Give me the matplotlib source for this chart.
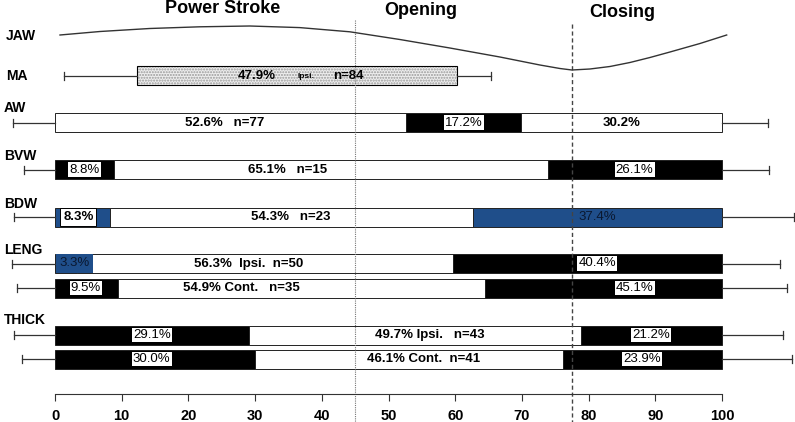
import matplotlib.pyplot as plt

# phase headers
phases = ["Power Stroke", "Opening", "Closing"]

# jaw movement trace (x in %, y in pixel rows of the chart)
jaw_x = [0.75, 6.75, 14.2, 21.7, 29.2, 36.7, 44.2, 51.7, 59.2, 66.7, 72.7,
         75.7, 77.5, 80.2, 83.2, 86.2, 89.2, 92.2, 96.7, 100.7]
jaw_y = [35, 31.5, 28.5, 26.8, 26, 27.6, 31.8, 39.5, 48, 57, 65, 68.5, 70,
         69, 66.5, 62.5, 57.5, 52, 43.5, 35]

# MA bar
ma_start = 12.3
ma_width = 47.9
ma_low = 1.35
ma_high = 65.3

# stacked bars
bar_names = ["AW", "BVW", "BDW", "LENG", "", "THICK", ""]
seg_widths = [
    [52.6, 17.2, 30.2],
    [8.8, 65.1, 26.1],
    [8.3, 54.3, 37.4],
    [3.3, 56.3, 40.4],
    [9.5, 54.9, 35.6],
    [29.1, 49.7, 21.2],
    [30.0, 46.1, 23.9],
]
seg_kinds = [
    ["w", "k", "w"],
    ["k", "w", "k"],
    ["b", "w", "b"],
    ["b", "w", "k"],
    ["k", "w", "k"],
    ["k", "w", "k"],
    ["k", "w", "k"],
]
main_labels = ["52.6%   n=77", "65.1%   n=15", "54.3%   n=23",
               "56.3%  Ipsi.  n=50", "54.9% Cont.   n=35",
               "49.7% Ipsi.   n=43", "46.1% Cont.  n=41"]
left_labels = ["", "8.8%", "8.3%", "3.3%", "9.5%", "29.1%", "30.0%"]
right_labels = ["17.2%", "26.1%", "37.4%", "40.4%", "45.1%", "21.2%", "23.9%"]
extra_labels = ["30.2%", "", "", "", "", "", ""]
whisk_low = [-6.3, -4.6, -6.1, -6.5, -5.75, -6.1, -5.0]
whisk_high = [106.9, 107.0, 110.8, 108.7, 109.7, 109.2, 110.5]

# layout
row_y = [122.5, 169.5, 217, 263.5, 288, 335, 359]
name_y = [108, 156, 204, 250, None, 320, None]
main_x = [25.4, 34.9, 35.4, 29.1, 27.9, 56.2, 55.2]
left_x = [0, 4.4, 3.5, 2.9, 4.6, 14.5, 14.5]
right_x = [61.3, 86.9, 81.3, 81.3, 86.9, 89.4, 88.0]
bar_h = 19
blue = "#1f4e8a"
colors = {"w": "white", "k": "black", "b": blue}
font = "Liberation Sans"
fs_in = 9.5

plt.rcParams["font.family"] = [font, "DejaVu Sans"]

fig = plt.figure(figsize=(7.95, 4.22), dpi=100)
ax = fig.add_axes([0, 28 / 422, 1, 394 / 422])
ax.set_xlim(-55 / 6.67, 740 / 6.67)
ax.set_ylim(394, 0)

# phase lines
ax.plot([45, 45], [20, 430], color="#777777", lw=0.8, ls=(0, (1, 1)),
        clip_on=False)
ax.plot([77.5, 77.5], [24, 430], color="#444444", lw=1.0, ls=(0, (3, 2)),
        clip_on=False)

# headers
ax.text(25.2, 8, phases[0], ha="center", va="center", fontsize=13,
        fontweight="bold")
ax.text(54.8, 10, phases[1], ha="center", va="center", fontsize=13,
        fontweight="bold")
ax.text(85.0, 12, phases[2], ha="center", va="center", fontsize=13,
        fontweight="bold")

# JAW
ax.text(-7.4, 36, "JAW", ha="left", va="center", fontsize=10,
        fontweight="heavy")
ax.plot(jaw_x, jaw_y, color="#333333", lw=1.0)

# MA
ax.text(-7.4, 76, "MA", ha="left", va="center", fontsize=10,
        fontweight="heavy")
ma_y = 75.5
ax.plot([ma_low, ma_start], [ma_y, ma_y], color="#333333", lw=0.9)
ax.plot([ma_low, ma_low], [ma_y - 4, ma_y + 4], color="#333333", lw=0.9)
ax.plot([ma_start + ma_width, ma_high], [ma_y, ma_y], color="#333333", lw=0.9)
ax.plot([ma_high, ma_high], [ma_y - 4, ma_y + 4], color="#333333", lw=0.9)
plt.rcParams["hatch.color"] = "#888888"
ax.barh(ma_y, ma_width, left=ma_start, height=bar_h, color="#eeeeee",
        hatch="......", edgecolor="#999999", lw=0)
ax.barh(ma_y, ma_width, left=ma_start, height=bar_h, color="none",
        edgecolor="black", lw=0.8)
ax.text(30.3, ma_y, "47.9%", ha="center", va="center", fontsize=fs_in,
        fontweight="bold")
ax.text(37.6, ma_y + 1, "Ipsi.", ha="center", va="center", fontsize=6,
        fontweight="bold")
ax.text(44.0, ma_y, "n=84", ha="center", va="center", fontsize=fs_in,
        fontweight="bold")

for i, widths in enumerate(seg_widths):
    y = row_y[i]
    if bar_names[i]:
        ax.text(-7.7, name_y[i], bar_names[i], ha="left", va="center",
                fontsize=10, fontweight="heavy")
    # whiskers
    ax.plot([whisk_low[i], 0], [y, y], color="#333333", lw=0.9)
    ax.plot([whisk_low[i]] * 2, [y - 4, y + 4], color="#333333", lw=0.9)
    ax.plot([100, whisk_high[i]], [y, y], color="#333333", lw=0.9)
    ax.plot([whisk_high[i]] * 2, [y - 4, y + 4], color="#333333", lw=0.9)
    left = 0
    for w, k in zip(widths, seg_kinds[i]):
        ax.barh(y, w, left=left, height=bar_h, color=colors[k],
                edgecolor="#222222", lw=0.7)
        left += w
    ax.text(main_x[i], y, main_labels[i], ha="center", va="center",
            fontsize=fs_in, fontweight="bold")
    kinds = seg_kinds[i]
    white_box = dict(facecolor="white", edgecolor="none", pad=0.8)
    if left_labels[i]:
        if i == 2:
            box = dict(facecolor="white", edgecolor="black", lw=0.7, pad=2)
            ax.text(left_x[i], y, left_labels[i], ha="center", va="center",
                    fontsize=fs_in, fontweight="bold", bbox=box)
        elif kinds[0] == "b":
            box = dict(facecolor=blue, edgecolor="none", pad=2.2)
            ax.text(left_x[i], y, left_labels[i], ha="center", va="center",
                    fontsize=fs_in, color="#0a1830", bbox=box)
        else:
            ax.text(left_x[i], y, left_labels[i], ha="center", va="center",
                    fontsize=fs_in, bbox=white_box)
    if kinds[2] == "b":
        ax.text(right_x[i], y, right_labels[i], ha="center", va="center",
                fontsize=fs_in, color="#0a1830")
    else:
        ax.text(right_x[i], y, right_labels[i], ha="center", va="center",
                fontsize=fs_in, bbox=white_box)
    if extra_labels[i]:
        ax.text(85.0, y, extra_labels[i], ha="center", va="center",
                fontsize=fs_in, fontweight="bold")

# axis
for s in ["left", "top", "right"]:
    ax.spines[s].set_visible(False)
ax.spines["bottom"].set_bounds(0, 100)
ax.spines["bottom"].set_color("#333333")
ax.set_yticks([])
ax.set_xticks(range(0, 101, 10))
ax.tick_params(axis="x", length=5, width=0.8, pad=6, labelsize=10.5,
               color="#333333")
for lab in ax.get_xticklabels():
    lab.set_fontweight("bold")

fig.savefig("out.png", dpi=100)
